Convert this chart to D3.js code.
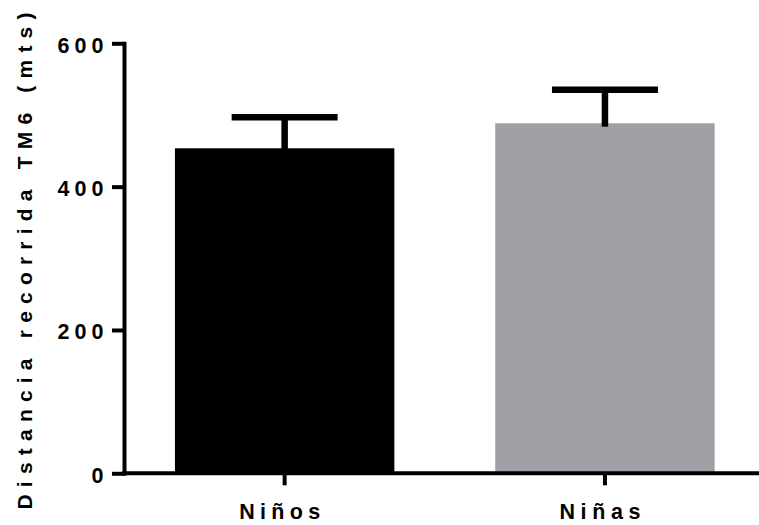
<!DOCTYPE html>
<html>
<head>
<meta charset="utf-8">
<script src="https://cdn.jsdelivr.net/npm/d3@7"></script>
<style>
  html, body { margin: 0; padding: 0; background: #fff; }
  svg { display: block; }
  text { font-family: "Liberation Sans", Arial, Helvetica, sans-serif; font-weight: bold; fill: #000; }
</style>
</head>
<body>
<svg id="chart" width="759" height="525"></svg>
<script>
// Distance walked in the 6-minute walk test, by sex (mean + SD)
const categories = ["Niños", "Niñas"];
const means = [453.5, 488.4];
const sdUpper = [43.2, 46.8];
const barColors = ["#000000", "#a09fa5"];
const yTicks = [0, 200, 400, 600];
const yTitle = "Distancia recorrida TM6 (mts)";

const svg = d3.select("#chart");
const axisX = 124, baseY = 473.3, topY = 43.3;

const y = d3.scaleLinear().domain([0, 600]).range([baseY, topY]);
const x = d3.scaleBand().domain(categories)
  .range([axisX, 765.6]).paddingInner(0.315).paddingOuter(0.159);

// bars
svg.append("g").selectAll("rect")
  .data(categories)
  .join("rect")
  .attr("x", d => x(d))
  .attr("width", x.bandwidth())
  .attr("y", (d, i) => y(means[i]))
  .attr("height", (d, i) => baseY - y(means[i]))
  .attr("fill", (d, i) => barColors[i]);

// error bars (upper SD only)
const capW = x.bandwidth() * 0.483;
const eb = svg.append("g").attr("stroke", "#000").attr("stroke-width", 6.5).attr("fill", "none");
categories.forEach((c, i) => {
  const cx = x(c) + x.bandwidth() / 2;
  const yt = y(means[i] + sdUpper[i]);
  eb.append("line").attr("x1", cx).attr("x2", cx).attr("y1", y(means[i]) + 3.4).attr("y2", yt);
  eb.append("line").attr("x1", cx - capW / 2).attr("x2", cx + capW / 2).attr("y1", yt).attr("y2", yt);
});

// y axis
const gy = svg.append("g").attr("transform", `translate(${axisX},0)`)
  .call(d3.axisLeft(y).tickValues(yTicks).tickSize(12).tickSizeOuter(0).tickFormat(d3.format("d")));
gy.select(".domain").attr("stroke", "#000").attr("stroke-width", 4).attr("stroke-linecap", "square");
gy.selectAll(".tick line").attr("stroke", "#000").attr("stroke-width", 4);
gy.selectAll(".tick text")
  .attr("x", -20.5).attr("dy", 9)
  .style("font-size", "21.5px")
  .attr("text-anchor", "end")
  .each(function () {
    const t = d3.select(this);
    if (t.text().length > 1) t.attr("textLength", 46).attr("lengthAdjust", "spacing");
  });

// x axis
const gx = svg.append("g").attr("transform", `translate(0,${baseY})`)
  .call(d3.axisBottom(x).tickSize(12).tickSizeOuter(0));
gx.select(".domain").attr("stroke", "#000").attr("stroke-width", 4)
  .attr("d", `M${axisX - 2},0H770`);
gx.selectAll(".tick line").attr("stroke", "#000").attr("stroke-width", 4);
gx.selectAll(".tick text")
  .attr("y", 46).attr("dy", 0).attr("dx", -5)
  .style("font-size", "21.5px")
  .attr("textLength", 81).attr("lengthAdjust", "spacing");

// y axis title
svg.append("text")
  .attr("transform", `translate(31.5,261) rotate(-90)`)
  .attr("text-anchor", "middle")
  .style("font-size", "21px")
  .attr("textLength", 497).attr("lengthAdjust", "spacing")
  .text(yTitle);
</script>
</body>
</html>
